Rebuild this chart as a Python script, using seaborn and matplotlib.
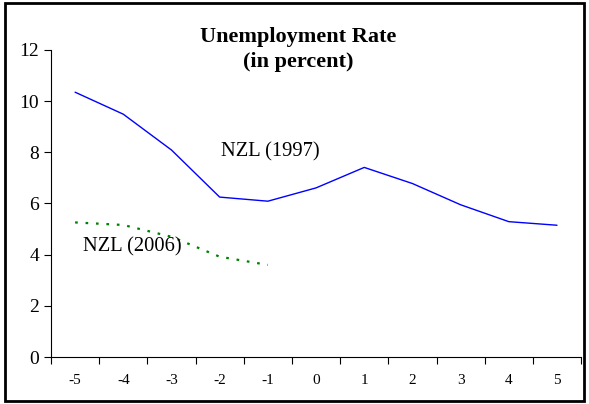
import matplotlib
matplotlib.use("Agg")
import matplotlib.pyplot as plt
import seaborn as sns
import numpy as np
from matplotlib.patches import Rectangle

# dados
anos = [-5, -4, -3, -2, -1, 0, 1, 2, 3, 4, 5]
nzl_1997 = [10.35, 9.49, 8.09, 6.25, 6.09, 6.61, 7.41, 6.78, 5.95, 5.29, 5.15]
anos_2006 = [-5, -4, -3, -2, -1]
nzl_2006 = [5.26, 5.16, 4.70, 3.92, 3.60]

sns.set_style("white")
plt.rcParams['font.family'] = ['Liberation Serif', 'DejaVu Serif']
plt.rcParams['text.color'] = 'black'
plt.rcParams['xtick.color'] = 'black'
plt.rcParams['ytick.color'] = 'black'

fig = plt.figure(figsize=(5.89, 4.04), dpi=100)
ax = fig.add_axes([0.0866, 0.1163, 0.90, 0.76])

pos = {a: i for i, a in enumerate(anos)}
x97 = [pos[a] for a in anos]
x06 = [pos[a] for a in anos_2006]

sns.lineplot(x=x97, y=nzl_1997, ax=ax, color='#0000ff', linewidth=1.0)
sns.lineplot(x=x06, y=nzl_2006, ax=ax, color='#008000', linewidth=1.6,
             linestyle=(0, (1.2, 3.5)))

ax.set_ylim(0, 12)
ax.set_xlim(-0.5, len(anos) - 0.5)
ax.set_yticks([0, 2, 4, 6, 8, 10, 12])
ax.tick_params(axis='y', labelsize=14, length=5, direction='out', left=True, width=0.8)
ax.set_xticks(np.arange(-0.5, len(anos), 1.0))
ax.set_xticklabels([])
ax.tick_params(axis='x', which='major', length=5, direction='out', bottom=True, width=0.8)
ax.set_xticks(range(len(anos)), minor=True)
ax.set_xticklabels([str(a) for a in anos], minor=True)
ax.tick_params(axis='x', which='minor', length=0, labelsize=11, pad=12)

for s in ['top', 'right']:
    ax.spines[s].set_visible(False)
for s in ['left', 'bottom']:
    ax.spines[s].set_color('black')
    ax.spines[s].set_linewidth(0.8)

ax.text(pos[-2] + 0.03, 8.0, 'NZL (1997)', fontsize=14.8, ha='left', va='center')
ax.text(pos[-5] + 0.17, 4.3, 'NZL (2006)', fontsize=14.8, ha='left', va='center')

fig.text(0.507, 0.878, 'Unemployment Rate\n(in percent)', fontsize=16, fontweight='bold',
         ha='center', va='center', linespacing=1.35)

fig.patches.append(Rectangle((0.009, 0.008), 0.982, 0.984, transform=fig.transFigure,
                             fill=False, edgecolor='black', linewidth=2))

fig.savefig('out.png', dpi=100)
